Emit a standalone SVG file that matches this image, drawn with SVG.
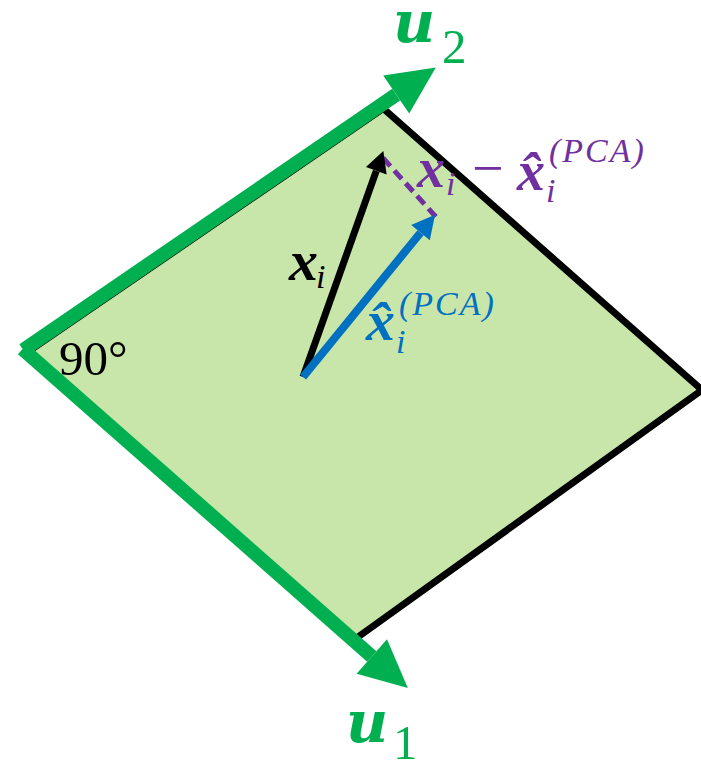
<svg xmlns="http://www.w3.org/2000/svg" width="701" height="762" viewBox="0 0 701 762">
<style>
.plane{fill:#C8E6A9;stroke:none}
.edge{fill:none;stroke:#000;stroke-width:7;stroke-linejoin:miter}
.axis{stroke:#00B050;stroke-width:14;fill:none;stroke-linecap:butt}
.vec{fill:none;stroke-linecap:butt}
.mi{font-family:"Liberation Serif",serif;font-style:italic}
.mb{font-family:"Liberation Serif",serif;font-style:italic;font-weight:bold}
.ub{font-family:"DejaVu Serif",serif;font-style:italic;font-weight:bold}
.rm{font-family:"Liberation Serif",serif}
</style>
<defs>
<marker id="ahG" markerUnits="userSpaceOnUse" orient="auto" refX="0" refY="0" markerWidth="60" markerHeight="60" viewBox="0 -30 60 60" overflow="visible">
<path d="M0,-23 L48,0 L0,23 Z" fill="#00B050"/>
</marker>
<marker id="ahK" markerUnits="userSpaceOnUse" orient="auto" refX="0" refY="0" markerWidth="30" markerHeight="30" viewBox="0 -15 30 30" overflow="visible">
<path d="M0,-11 L21,0 L0,11 Z" fill="#000"/>
</marker>
<marker id="ahB" markerUnits="userSpaceOnUse" orient="auto" refX="0" refY="0" markerWidth="30" markerHeight="30" viewBox="0 -15 30 30" overflow="visible">
<path d="M0,-12 L23,0 L0,12 Z" fill="#0070C0"/>
</marker>
</defs>
<g id="plane">
<polygon class="plane" points="33,351 385,110 702,390 358,637"/>
<polyline class="edge" points="385,110 702,390 358,637"/>
<line x1="33" y1="351" x2="385" y2="110" stroke="#000" stroke-width="2.5"/>
</g>
<g id="connectors">
<line id="u2-axis" class="axis" x1="23.3" y1="350" x2="396.2" y2="94.6" marker-end="url(#ahG)"/>
<line id="u1-axis" class="axis" x1="22.6" y1="349" x2="371.8" y2="656.4" marker-end="url(#ahG)"/>
<line id="residual" class="vec" x1="383" y1="158" x2="436" y2="217" stroke="#7030A0" stroke-width="5" stroke-dasharray="11 6"/>
<line id="xi-vec" class="vec" x1="303" y1="377" x2="376.3" y2="170.8" stroke="#000" stroke-width="7" marker-end="url(#ahK)"/>
<line id="xhat-vec" class="vec" x1="303" y1="377" x2="420.5" y2="232.7" stroke="#0070C0" stroke-width="8" marker-end="url(#ahB)"/>
</g>
<g id="label-u2" fill="#00B050">
<text class="ub" x="393" y="42" font-size="58">u</text>
<text class="rm" x="442" y="63" font-size="49">2</text>
</g>
<g id="label-u1" fill="#00B050">
<text class="ub" x="346" y="742" font-size="58">u</text>
<text class="rm" x="393" y="759" font-size="49">1</text>
</g>
<g id="label-angle" fill="#000">
<text class="rm" x="59" y="375" font-size="49">90°</text>
</g>
<g id="label-xi" fill="#000">
<text class="mb" x="289" y="280" font-size="58">x</text>
<text class="mi" x="316" y="288" font-size="34">i</text>
</g>
<g id="label-xhat" fill="#0070C0">
<text class="mb" x="366" y="340" font-size="58">x̂</text>
<text class="mi" x="396" y="353" font-size="34">i</text>
<text class="mi" x="399" y="315" font-size="34" letter-spacing="2">(PCA)</text>
</g>
<g id="label-residual" fill="#7030A0">
<text class="mb" x="417" y="187" font-size="56">x</text>
<text class="mi" x="446" y="195" font-size="34">i</text>
<text class="rm" x="472" y="187" font-size="56">−</text>
<text class="mb" x="517" y="190" font-size="56">x̂</text>
<text class="mi" x="546" y="202" font-size="34">i</text>
<text class="mi" x="549" y="162" font-size="34" letter-spacing="2">(PCA)</text>
</g>
</svg>
